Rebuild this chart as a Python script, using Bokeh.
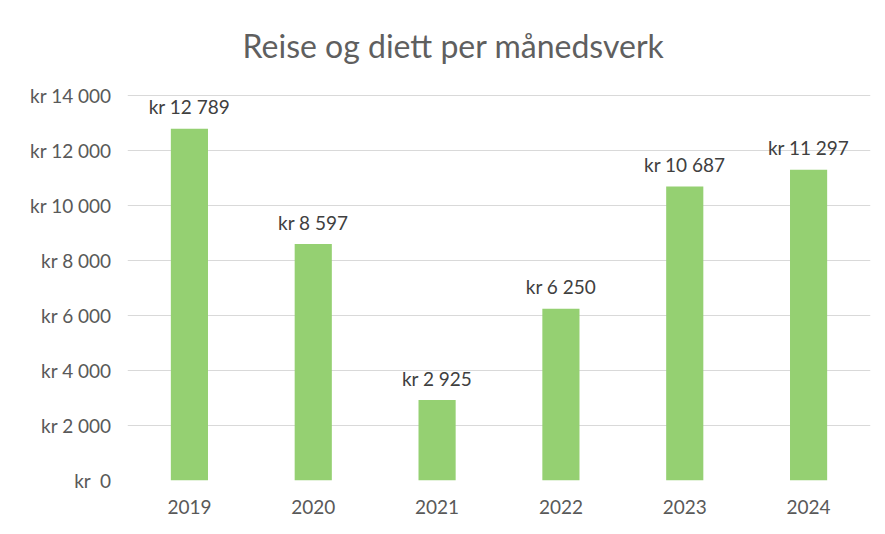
from bokeh.plotting import figure
from bokeh.models import ColumnDataSource, FixedTicker, Range1d, FactorRange, Label
from bokeh.core.properties import value
from bokeh.embed import file_html
from bokeh.resources import INLINE

# data
years = ["2019", "2020", "2021", "2022", "2023", "2024"]
amounts = [12789, 8597, 2925, 6250, 10687, 11297]
amount_labels = ["kr 12 789", "kr 8 597", "kr 2 925", "kr 6 250", "kr 10 687", "kr 11 297"]
y_ticks = [0, 2000, 4000, 6000, 8000, 10000, 12000, 14000]
y_tick_labels = ["kr \u00a00", "kr 2 000", "kr 4 000", "kr 6 000", "kr 8 000", "kr 10 000", "kr 12 000", "kr 14 000"]
title_text = "Reise og diett per månedsverk"

FONT = "Lato"
AXIS_COL = "#595959"
LABEL_COL = "#404040"
GRID_COL = "#d9d9d9"
BAR_COL = "#95d072"

# layout (pixels): plot area 480 px tall, value axis 14 000 spans 385 px
FRAME_H = 480
AXIS_PX = 385
Y_TOP = y_ticks[-1] * FRAME_H / AXIS_PX
PX = y_ticks[-1] / AXIS_PX  # data units per pixel
CAT_PX = 743 / len(years)   # pixels per category

src = ColumnDataSource(dict(year=years, amount=amounts, label=amount_labels))

p = figure(
    width=877, height=526,
    x_range=FactorRange(*years, range_padding=0),
    y_range=Range1d(0, Y_TOP),
    output_backend="svg", toolbar_location=None,
    min_border_left=127, min_border_right=7,
    min_border_top=0, min_border_bottom=46,
)
p.outline_line_color = None
p.background_fill_color = "white"
p.border_fill_color = "white"

p.vbar(x="year", top="amount", width=0.3, source=src, fill_color=BAR_COL, line_color=None)

p.text(x="year", y="amount", text="label", source=src,
       text_align="center", text_baseline="middle", y_offset=-22,
       text_font=value(FONT), text_font_size="19px", text_color=LABEL_COL)

# chart title, placed in the empty band above the value axis (centre at x = 453 px)
p.add_layout(Label(x=(453 - 127) / CAT_PX, y=(FRAME_H - 45) * PX,
                   text=title_text, text_align="center", text_baseline="middle",
                   text_font=FONT, text_font_size="32px", text_color="#5f5f5f"))

p.yaxis.ticker = FixedTicker(ticks=y_ticks)
p.yaxis.major_label_overrides = {t: l for t, l in zip(y_ticks, y_tick_labels)}
for ax in (p.xaxis, p.yaxis):
    ax.axis_line_color = None
    ax.major_tick_line_color = None
    ax.minor_tick_line_color = None
    ax.major_tick_out = 0
    ax.major_tick_in = 0
    ax.major_label_text_font = FONT
    ax.major_label_text_font_size = "19px"
    ax.major_label_text_color = AXIS_COL
p.yaxis.major_label_standoff = 16
p.xaxis.major_label_standoff = 19

p.xgrid.grid_line_color = None
p.ygrid.grid_line_color = GRID_COL
p.ygrid.grid_line_width = 1

open("out.html", "w").write(file_html(p, INLINE))
